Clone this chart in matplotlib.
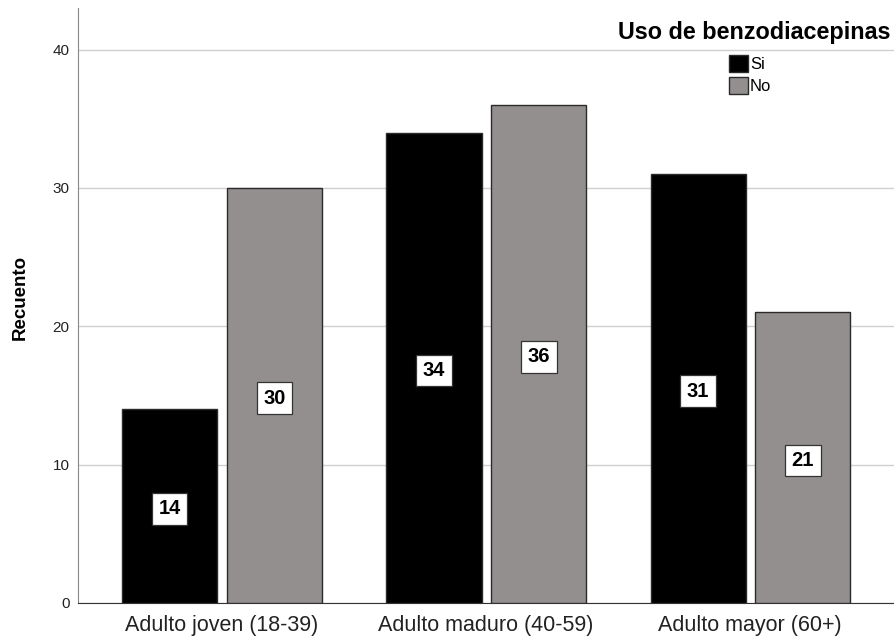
import matplotlib
matplotlib.use("Agg")
import matplotlib.pyplot as plt
import numpy as np
from matplotlib.patches import Patch

plt.rcParams['font.family'] = ['Liberation Sans', 'DejaVu Sans']

categories = ["Adulto joven (18-39)", "Adulto maduro (40-59)", "Adulto mayor (60+)"]
si_values = [14, 34, 31]
no_values = [30, 36, 21]
series_names = ["Si", "No"]
legend_title = "Uso de benzodiacepinas"
y_label = "Recuento"

fig = plt.figure(figsize=(8.94, 6.39), dpi=100)
ax = fig.add_axes([78/894, 1-603/639, 1-78/894, (603-8)/639])

x = np.arange(len(categories))
w = 0.36
off = 0.2
colors = ["#000000", "#948f8f"]
for vals, o, c in [(si_values, -off + 0.003, colors[0]), (no_values, off, colors[1])]:
    bars = ax.bar(x + o, vals, width=w, color=c, edgecolor="#2a2a2a", linewidth=1.0, zorder=3)
    for b, v in zip(bars, vals):
        ax.text(b.get_x() + b.get_width()/2, v/2 - 0.2, str(v), ha="center", va="center",
                fontsize=14.5, fontweight="bold", color="black", zorder=5,
                bbox=dict(boxstyle="square,pad=0.32", facecolor="white", edgecolor="#333333", linewidth=0.9))

ax.set_xlim(-0.545, 2.545)
ax.set_ylim(0, 43)
ax.set_yticks([0, 10, 20, 30, 40])
ax.set_xticks(x)
ax.set_xticklabels(categories, fontsize=15.5, color="#222222")
ax.tick_params(axis="y", labelsize=11, length=0, pad=6, colors="#222222")
ax.tick_params(axis="x", length=0, pad=9)
ax.yaxis.grid(True, color="#d0d0d0", linewidth=1.0, zorder=0)
ax.set_axisbelow(True)
for s in ["top", "right"]:
    ax.spines[s].set_visible(False)
ax.spines["left"].set_color("#888888")
ax.spines["bottom"].set_color("#333333")
fig.text(20.5/894, 1-297/639, y_label, rotation=90, ha="center", va="center",
         fontsize=13.5, fontweight="bold")

fig.text(0.996, 1-33/639, legend_title, ha="right", va="center", fontsize=16.8, fontweight="bold")
handles = [Patch(facecolor=colors[i], edgecolor="#2a2a2a", label=series_names[i]) for i in range(2)]
leg = fig.legend(handles=handles, loc="upper left", bbox_to_anchor=(729/894, 1-55/639),
                 frameon=False, fontsize=12, handlelength=1.15, handleheight=1.2,
                 handletextpad=0.1, labelspacing=0.3, borderpad=0, borderaxespad=0)

fig.savefig("out.png", dpi=100)
